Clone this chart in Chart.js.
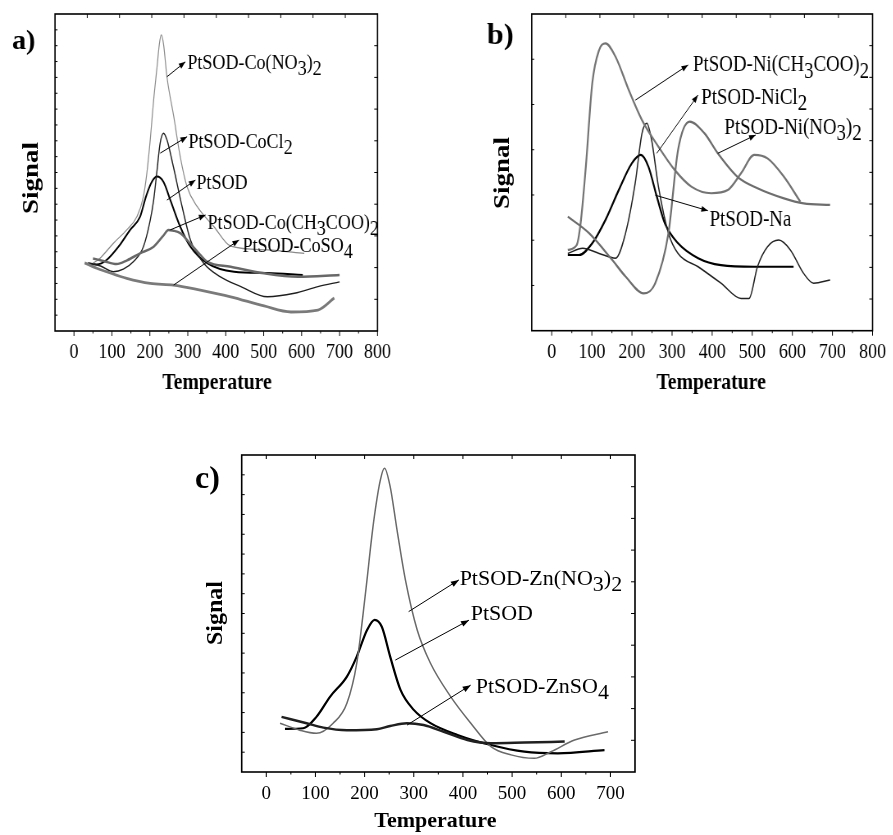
<!DOCTYPE html>
<html>
<head>
<meta charset="utf-8">
<script src="https://cdn.jsdelivr.net/npm/chart.js@4/dist/chart.umd.min.js"></script>
<style>
  html, body { margin: 0; padding: 0; background: #fff; }
  body { width: 893px; height: 835px; position: relative; overflow: hidden; }
  .panel { position: absolute; transform-origin: 0 0; }
  .panel canvas { display: block; }
</style>
</head>
<body>
<div class="panel" id="panelA" style="left:0;top:0;transform:scaleX(0.82)"><canvas id="chartA" width="560" height="400"></canvas></div>
<div class="panel" id="panelB" style="left:440px;top:0;transform:scaleX(0.82)"><canvas id="chartB" width="552" height="400"></canvas></div>
<div class="panel" id="panelC" style="left:180px;top:420px"><canvas id="chartC" width="500" height="415"></canvas></div>
<script>
const SERIF = '"Liberation Serif", "Times New Roman", Times, serif';

// ---------- a) cobalt-loaded samples ----------
const aTempTicks = [0, 100, 200, 300, 400, 500, 600, 700, 800];
const aMinorTicks = [50, 150, 250, 350, 450, 550, 650, 750];

const aNitrateT = [50, 68, 104, 139, 166, 183, 192, 201, 210, 219, 225, 230, 236, 245, 263, 280, 298, 325, 369, 413, 510, 607];
const aNitrateY = [21.4, 22.9, 27.7, 31.9, 36.1, 42.4, 49.7, 60.3, 72.9, 83.4, 90.5, 93.4, 90.5, 80.2, 67.6, 55.0, 45.5, 39.2, 32.9, 26.8, 25.6, 24.5];

const aChlorideT = [37, 70, 104, 130, 157, 183, 201, 210, 218, 227, 236, 245, 262, 285, 307, 342, 386, 440, 510, 581, 643, 700];
const aChlorideY = [21.4, 20.5, 18.7, 19.5, 21.9, 26.6, 35.0, 41.3, 49.7, 59.2, 62.4, 60.3, 51.8, 39.2, 28.7, 21.4, 17.1, 14.0, 10.8, 11.9, 14.0, 15.5];

const aPtsodT = [37, 60, 86, 120, 148, 174, 190, 205, 219, 236, 254, 280, 307, 351, 422, 510, 603];
const aPtsodY = [21.4, 21.0, 22.4, 27.0, 31.9, 36.0, 42.5, 47.0, 48.7, 47.0, 41.3, 32.9, 26.6, 21.4, 18.7, 18.3, 17.7];

const aAcetateT = [50, 80, 112, 140, 174, 210, 235, 249, 260, 280, 307, 333, 352, 413, 501, 590, 700];
const aAcetateY = [22.9, 22.0, 21.1, 22.3, 24.5, 26.6, 30.0, 31.9, 31.7, 30.9, 27.5, 24.0, 21.8, 20.3, 18.2, 17.1, 17.7];

const aSulfateT = [28, 60, 86, 139, 201, 262, 333, 413, 501, 572, 643, 686];
const aSulfateY = [21.5, 19.8, 18.7, 16.6, 15.0, 14.5, 12.9, 10.8, 7.9, 6.0, 6.6, 10.4];

// ---------- b) nickel-loaded samples ----------
const bTempTicks = [0, 100, 200, 300, 400, 500, 600, 700, 800];
const bMinorTicks = [50, 150, 250, 350, 450, 550, 650, 750];

const bAcetateT = [40, 62, 72, 85, 101, 118, 134, 159, 192, 225, 266, 307, 348, 398, 439, 472, 505, 538, 579, 620];
const bAcetateY = [25.5, 27.0, 34.0, 51.8, 78.1, 88.6, 90.7, 86.5, 76.0, 66.5, 58.1, 50.7, 45.5, 43.4, 44.4, 49.7, 55.5, 54.4, 48.6, 40.7];

const bNitrateT = [40, 93, 151, 184, 229, 258, 291, 315, 344, 381, 414, 463, 513, 579, 628, 694];
const bNitrateY = [36.0, 30.8, 22.3, 17.1, 11.8, 15.0, 30.8, 57.1, 66.0, 62.3, 56.0, 48.6, 45.0, 41.8, 40.2, 39.7];

const bChlorideT = [40, 77, 118, 159, 184, 208, 225, 237, 249, 266, 291, 315, 365, 422, 472, 492, 513, 538, 566, 595, 628, 653, 694];
const bChlorideY = [24.4, 26.0, 24.4, 22.9, 30.8, 46.5, 62.3, 65.5, 60.2, 45.5, 30.8, 24.4, 20.2, 15.0, 10.2, 10.2, 20.2, 26.5, 28.6, 25.5, 18.1, 15.0, 16.0];

const bSodiumT = [40, 68, 101, 134, 167, 200, 222, 241, 262, 282, 315, 365, 422, 505, 603];
const bSodiumY = [23.9, 23.9, 27.6, 35.0, 44.4, 52.9, 55.5, 51.8, 42.3, 33.9, 27.6, 22.9, 20.7, 20.2, 20.2];

// ---------- c) zinc-loaded samples ----------
const cTempTicks = [0, 100, 200, 300, 400, 500, 600, 700];
const cMinorTicks = [50, 150, 250, 350, 450, 550, 650];

const cNitrateT = [28, 68, 102, 136, 164, 184, 201, 218, 232, 240.5, 252, 266, 283, 307, 334, 375, 416, 457, 498, 545, 579, 627, 695];
const cNitrateY = [15.4, 13.2, 12.2, 15.4, 21.7, 34.3, 55.3, 78.5, 92.1, 95.8, 90.0, 76.3, 60.6, 44.8, 34.3, 23.8, 15.4, 8.0, 5.4, 4.3, 6.4, 10.1, 12.7];

const cPtsodT = [38, 75, 102, 130, 164, 184, 205, 220.5, 235, 252, 273, 300, 334, 389, 457, 525, 593, 688];
const cPtsodY = [13.6, 13.8, 17.4, 23.8, 30.1, 36.4, 44.8, 48.0, 45.8, 36.4, 25.9, 19.6, 15.4, 11.7, 8.5, 6.4, 5.9, 6.9];

const cSulfateT = [31, 82, 116, 164, 225, 252, 286, 320, 361, 409, 457, 525, 607];
const cSulfateY = [17.4, 15.4, 14.0, 13.2, 13.5, 14.5, 15.4, 14.8, 12.7, 10.1, 9.1, 9.3, 9.6];

// ---------- helpers ----------
function pts(T, Y) { return T.map((t, i) => ({ x: t, y: Y[i] })); }

function series(label, T, Y, color, width) {
  return {
    label, data: pts(T, Y), borderColor: color, borderWidth: width,
    pointRadius: 0, fill: false, cubicInterpolationMode: 'monotone'
  };
}

// Writes a label where "_d" marks a lowered (subscript) digit.
function subText(ctx, text, x, yMid, size) {
  const parts = text.split(/_(\d)/);
  const base = yMid + size * 0.33;
  let cx = x;
  ctx.textAlign = 'left';
  ctx.textBaseline = 'alphabetic';
  parts.forEach((p, i) => {
    if (!p) return;
    const y = (i % 2) ? base + size * 0.27 : base;
    ctx.fillText(p, cx, y);
    cx += ctx.measureText(p).width;
  });
}

function arrow(ctx, x1, y1, x2, y2) {
  ctx.beginPath();
  ctx.moveTo(x1, y1);
  ctx.lineTo(x2, y2);
  ctx.stroke();
  const ang = Math.atan2(y2 - y1, x2 - x1);
  const L = 8, W = 3;
  ctx.beginPath();
  ctx.moveTo(x2, y2);
  ctx.lineTo(x2 - L * Math.cos(ang) + W * Math.sin(ang), y2 - L * Math.sin(ang) - W * Math.cos(ang));
  ctx.lineTo(x2 - L * Math.cos(ang) - W * Math.sin(ang), y2 - L * Math.sin(ang) + W * Math.cos(ang));
  ctx.closePath();
  ctx.fill();
}

// Box frame, tick marks, curve labels, panel letter and the axis titles.
const panelFrame = {
  id: 'panelFrame',
  afterDraw(chart, args, o) {
    const { ctx, chartArea: a } = chart;
    const xs = chart.scales.x, ys = chart.scales.y;
    ctx.save();
    ctx.strokeStyle = '#000';
    ctx.fillStyle = '#000';
    ctx.lineWidth = 1.6;
    ctx.strokeRect(a.left, a.top, a.width, a.height);

    ctx.lineWidth = 1;
    ctx.beginPath();
    for (let i = 1; i < o.leftN; i++) {
      const y = a.bottom - a.height * i / o.leftN;
      ctx.moveTo(a.left, y); ctx.lineTo(a.left + 3, y);
    }
    for (let i = 1; i < o.rightN; i++) {
      const y = a.bottom - a.height * i / o.rightN;
      ctx.moveTo(a.right, y); ctx.lineTo(a.right - 4, y);
    }
    if (Array.isArray(o.top)) {
      o.top.forEach(v => { const x = xs.getPixelForValue(v); ctx.moveTo(x, a.top); ctx.lineTo(x, a.top + 4); });
    } else {
      for (let i = 1; i < o.top; i++) {
        const x = a.left + a.width * i / o.top;
        ctx.moveTo(x, a.top); ctx.lineTo(x, a.top + 4);
      }
    }
    o.major.forEach(v => { const x = xs.getPixelForValue(v); ctx.moveTo(x, a.bottom); ctx.lineTo(x, a.bottom + 5); });
    o.minor.forEach(v => { const x = xs.getPixelForValue(v); ctx.moveTo(x, a.bottom); ctx.lineTo(x, a.bottom + 2.5); });
    ctx.stroke();

    ctx.lineWidth = 1;
    ctx.font = `${o.noteSize}px ${SERIF}`;
    o.notes.forEach(n => {
      arrow(ctx, xs.getPixelForValue(n.from[0]), ys.getPixelForValue(n.from[1]),
                 xs.getPixelForValue(n.to[0]), ys.getPixelForValue(n.to[1]));
      subText(ctx, n.text, xs.getPixelForValue(n.at[0]), ys.getPixelForValue(n.at[1]), o.noteSize);
    });

    const L = o.letter;
    ctx.save();
    ctx.translate(L.x, L.y);
    ctx.scale(L.sx, 1);
    ctx.font = `bold ${L.size}px ${SERIF}`;
    ctx.textAlign = 'left';
    ctx.textBaseline = 'middle';
    ctx.fillText(L.text, 0, 0);
    ctx.restore();

    const X = o.xTitle;
    ctx.font = `bold ${X.size}px ${SERIF}`;
    ctx.textAlign = 'center';
    ctx.textBaseline = 'middle';
    ctx.fillText('Temperature', (a.left + a.right) / 2 + X.dx, X.y);

    const S = o.signal;
    ctx.save();
    ctx.translate(S.x, S.y);
    ctx.rotate(-Math.PI / 2);
    ctx.font = `bold ${S.size}px ${SERIF}`;
    ctx.textAlign = 'center';
    ctx.textBaseline = 'middle';
    ctx.fillText('Signal', 0, 0);
    ctx.restore();
    ctx.restore();
  }
};

function makePanel(canvasId, cfg) {
  return new Chart(document.getElementById(canvasId), {
    type: 'line',
    data: { datasets: cfg.datasets },
    plugins: [panelFrame],
    options: {
      responsive: false,
      animation: false,
      events: [],
      layout: { padding: cfg.padding },
      plugins: {
        legend: { display: false },
        tooltip: { enabled: false },
        panelFrame: cfg.frame
      },
      scales: {
        x: {
          type: 'linear', min: cfg.xMin, max: cfg.xMax,
          afterBuildTicks: s => { s.ticks = cfg.xTicks.map(v => ({ value: v })); },
          afterFit: s => { s.height = cfg.axisHeight; },
          grid: { display: false, drawTicks: false },
          border: { display: false },
          ticks: { color: '#000', padding: cfg.tickPad, maxRotation: 0, autoSkip: false,
                   font: { family: SERIF, size: cfg.tickSize } },
          title: { display: false }
        },
        y: { type: 'linear', display: false, min: 0, max: 100 }
      }
    }
  });
}

const SX = 0.82;

makePanel('chartA', {
  xMin: -50, xMax: 800, xTicks: aTempTicks,
  padding: { left: 55 / SX, right: 560 - 377.5 / SX, top: 14, bottom: 0 },
  axisHeight: 69, tickPad: 8, tickSize: 22,
  datasets: [
    series('PtSOD-CoSO4', aSulfateT, aSulfateY, '#7a7a7a', 2.8),
    series('PtSOD-Co(CH3COO)2', aAcetateT, aAcetateY, '#686868', 2.5),
    series('PtSOD-Co(NO3)2', aNitrateT, aNitrateY, '#8a8a8a', 1.2),
    series('PtSOD-CoCl2', aChlorideT, aChlorideY, '#1e1e1e', 1.4),
    series('PtSOD', aPtsodT, aPtsodY, '#000000', 2.0)
  ],
  frame: {
    leftN: 20, rightN: 10, top: 10, major: aTempTicks, minor: aMinorTicks, noteSize: 22,
    letter: { text: 'a)', x: 12 / SX, y: 42, size: 28, sx: 1 / SX },
    signal: { x: 32 / SX, y: 178, size: 27 },
    xTitle: { size: 24, dx: 1, y: 382.6 },
    notes: [
      { text: 'PtSOD-Co(NO_3)_2', from: [245, 80.2], to: [293.6, 84.9], at: [298.9, 84.9] },
      { text: 'PtSOD-CoCl_2', from: [227.3, 56.1], to: [298.1, 61.3], at: [301.6, 59.9] },
      { text: 'PtSOD', from: [245.1, 41.3], to: [320.2, 47.6], at: [322.8, 47.1] },
      { text: 'PtSOD-Co(CH_3COO)_2', from: [253.8, 31.9], to: [346.7, 36.6], at: [352, 34.5] },
      { text: 'PtSOD-CoSO_4', from: [262.6, 14.5], to: [435, 28.7], at: [444, 27.1] }
    ]
  }
});

makePanel('chartB', {
  xMin: -50, xMax: 800, xTicks: bTempTicks,
  padding: { left: 91.7 / SX, right: 552 - 436.7 / SX, top: 14, bottom: 0 },
  axisHeight: 69.3, tickPad: 8, tickSize: 22,
  datasets: [
    series('PtSOD-Ni(NO3)2', bNitrateT, bNitrateY, '#6e6e6e', 2.2),
    series('PtSOD-Ni(CH3COO)2', bAcetateT, bAcetateY, '#747474', 2.2),
    series('PtSOD-NiCl2', bChlorideT, bChlorideY, '#222222', 1.5),
    series('PtSOD-Na', bSodiumT, bSodiumY, '#000000', 2.2)
  ],
  frame: {
    leftN: 7, rightN: 10, top: 10, major: bTempTicks, minor: bMinorTicks, noteSize: 23,
    letter: { text: 'b)', x: 47 / SX, y: 36, size: 30, sx: 1 / SX },
    signal: { x: 63.5 / SX, y: 173, size: 27 },
    xTitle: { size: 24, dx: 11, y: 382.6 },
    notes: [
      { text: 'PtSOD-Ni(CH_3COO)_2', from: [208.4, 72.8], to: [340, 83.9], at: [352.3, 84.3] },
      { text: 'PtSOD-NiCl_2', from: [261.7, 56], to: [364.7, 74.4], at: [372.8, 74.1] },
      { text: 'PtSOD-Ni(NO_3)_2', from: [414, 56], to: [508.6, 61.8], at: [430.6, 64.6] },
      { text: 'PtSOD-Na', from: [257.8, 42.8], to: [389.4, 37.9], at: [393.6, 35.3] }
    ]
  }
});

makePanel('chartC', {
  xMin: -50, xMax: 750, xTicks: cTempTicks,
  padding: { left: 61.7, right: 45, top: 35, bottom: 0 },
  axisHeight: 63, tickPad: 10.5, tickSize: 19,
  datasets: [
    series('PtSOD-ZnSO4', cSulfateT, cSulfateY, '#202020', 2.5),
    series('PtSOD-Zn(NO3)2', cNitrateT, cNitrateY, '#6a6a6a', 1.5),
    series('PtSOD', cPtsodT, cPtsodY, '#000000', 2.2)
  ],
  frame: {
    leftN: 16, rightN: 10, top: cTempTicks, major: cTempTicks, minor: cMinorTicks, noteSize: 22,
    letter: { text: 'c)', x: 15, y: 60, size: 32, sx: 1 },
    signal: { x: 36, y: 193, size: 24 },
    xTitle: { size: 22, dx: -3, y: 401.8 },
    notes: [
      { text: 'PtSOD-Zn(NO_3)_2', from: [289.6, 50.6], to: [391.8, 60.6], at: [393.3, 61.2] },
      { text: 'PtSOD', from: [262.4, 35.3], to: [412.3, 47.9], at: [415.7, 50.2] },
      { text: 'PtSOD-ZnSO_4', from: [286.3, 14.8], to: [415.7, 27.4], at: [426, 27.1] }
    ]
  }
});
</script>
</body>
</html>
